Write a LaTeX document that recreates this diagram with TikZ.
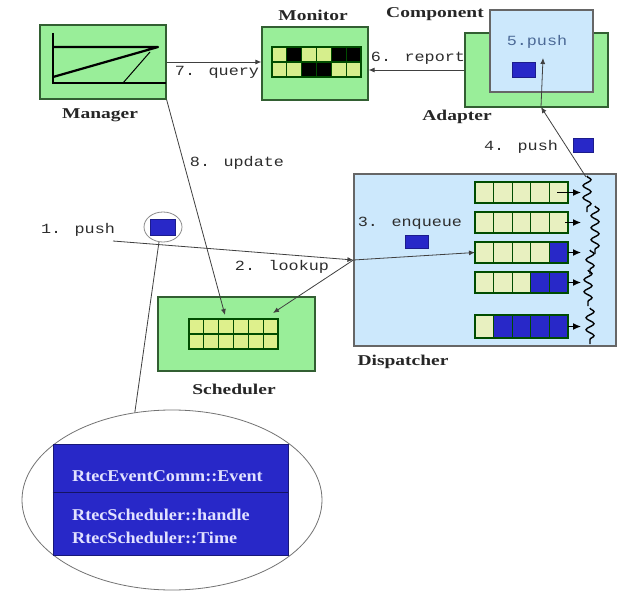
\documentclass[tikz,border=0pt]{standalone}
\usepackage{fontspec}
\usetikzlibrary{arrows.meta,decorations.pathmorphing,shapes.geometric}
\newfontfamily\namefont[FakeStretch=1.3]{Liberation Serif}
\newfontfamily\stepfont[FakeStretch=1.2]{Liberation Mono}
\newfontfamily\evfont[FakeStretch=1.1]{Liberation Serif}

\definecolor{boxgreen}{RGB}{153,238,153}
\definecolor{edgegreen}{RGB}{50,95,50}
\definecolor{paleblue}{RGB}{204,232,252}
\definecolor{evblue}{RGB}{40,40,200}
\definecolor{cellpale}{RGB}{232,240,192}
\definecolor{celllime}{RGB}{214,238,140}
\definecolor{schedcell}{RGB}{222,240,140}
\definecolor{labelgray}{RGB}{45,45,45}
\definecolor{pushblue}{RGB}{75,105,150}
\definecolor{evtextc}{RGB}{225,225,255}

\begin{document}
\begin{tikzpicture}[x=1pt,y=-1pt,
  greenbox/.style={draw=edgegreen, fill=boxgreen, line width=1.2pt, inner sep=0pt},
  bluebox/.style={draw=black!60, fill=paleblue, line width=1.2pt, inner sep=0pt},
  compname/.style={font=\namefont\bfseries\fontsize{15}{18}\selectfont, text=black!85, inner sep=0pt},
  steplabel/.style={font=\stepfont\fontsize{14}{16}\selectfont, text=labelgray, inner sep=0pt},
  evtext/.style={font=\evfont\bfseries\fontsize{16.5}{19}\selectfont, text=evtextc, inner sep=0pt, anchor=west},
  token/.style={fill=evblue, draw=evblue!70!black, line width=0.6pt},
  conn/.style={draw=black!75, line width=0.8pt},
  tip/.style={-{Latex[length=6pt,width=5pt]}},
  cellline/.style={draw=black!70!green, line width=1.3pt},
  wave/.style={draw=black, line width=1.4pt, decorate,
    decoration={snake, amplitude=4pt, segment length=12pt}},
  qarrow/.style={draw=black, line width=1.2pt, -{Latex[length=8pt,width=7pt]}}]

\useasboundingbox (0,0) rectangle (619,594);
\fill[white] (0,0) rectangle (619,594);

% ---------- Manager ----------
\node[greenbox, minimum width=126pt, minimum height=74pt] (mgr) at (103,62) {};
\draw[line width=2.2pt] (53,33) -- (53,83) -- (165.5,83);
\draw[line width=2.2pt, line join=round] (53,47) -- (158,47) -- (53,77);
\draw[line width=1pt] (123,83) -- (150,52);
\node[compname] at (100,115) {Manager};

% ---------- Monitor ----------
\node[greenbox, minimum width=106pt, minimum height=73pt] (mon) at (315,63.5) {};
\node[compname] at (313,15) {Monitor};
\foreach \col [count=\i from 0] in {celllime,black,celllime,celllime,black,black}
  \filldraw[cellline, fill=\col] (272+\i*14.83,47) rectangle ++(14.83,15);
\foreach \col [count=\i from 0] in {celllime,celllime,black,black,celllime,celllime}
  \filldraw[cellline, fill=\col] (272+\i*14.83,62) rectangle ++(14.83,15);

% ---------- Adapter and Component ----------
\node[greenbox, minimum width=143pt, minimum height=74pt] (adp) at (536.5,70) {};
\node[bluebox, minimum width=103pt, minimum height=82pt] (cmp) at (541.5,51) {};
\node[compname] at (435,14) {Component};
\node[compname] at (457,117) {Adapter};
\node[steplabel, text=pushblue] (p5) at (537,42) {5.push};
\draw[token] (512,62) rectangle (535,77);

% ---------- Dispatcher ----------
\node[bluebox, minimum width=262pt, minimum height=172pt] (disp) at (485,260) {};
\node[compname] at (403,362) {Dispatcher};
\foreach \ytop/\hgt/\cols in {
    182/21/{cellpale,cellpale,cellpale,cellpale,cellpale},
    212/21/{cellpale,cellpale,cellpale,cellpale,cellpale},
    242/21/{cellpale,cellpale,cellpale,cellpale,evblue},
    272/21/{cellpale,cellpale,cellpale,evblue,evblue},
    315/23/{cellpale,evblue,evblue,evblue,evblue}}
  \foreach \col [count=\i from 0] in \cols
    \filldraw[cellline, fill=\col] (475+\i*18.6,\ytop) rectangle ++(18.6,\hgt);
\coordinate (q3) at (475,252.5);
\draw[qarrow] (557,192.5) -- (581,192.5);
\draw[qarrow] (565,222.5) -- (581,222.5);
\draw[qarrow] (568,252.5) -- (581,252.5);
\draw[qarrow] (568,282.5) -- (581,282.5);
\draw[qarrow] (568,326.5) -- (581,326.5);
\draw[wave] (587,176) -- (587,212);
\draw[wave] (595,206) -- (595,254);
\draw[wave] (590,250) -- (590,274);
\draw[wave] (588,270) -- (588,306);
\draw[wave] (590,308) -- (590,344);
\coordinate (wtop) at (586,177);
\node[steplabel] at (410,223) {3. enqueue};
\draw[token] (405,235) rectangle (428,248);

% ---------- Scheduler ----------
\node[greenbox, minimum width=157pt, minimum height=74pt] (sch) at (236.5,334) {};
\node[compname] at (234,389) {Scheduler};
\foreach \r in {0,1}
  \foreach \i in {0,...,5}
    \filldraw[cellline, fill=schedcell] (189+\i*14.83,319+\r*15) rectangle ++(14.83,15);
\coordinate (supd) at (225,315);
\coordinate (slook) at (273,313);

% ---------- Event ----------
\node[ellipse, draw=black!45, fill=white, line width=0.8pt,
      minimum width=38pt, minimum height=30pt, inner sep=0pt] (evs) at (163,227) {};
\draw[token] (150,219) rectangle (175,235);
\node[ellipse, draw=black!55, line width=0.8pt,
      minimum width=300pt, minimum height=180pt, inner sep=0pt] (evb) at (172,500) {};
\node[fill=evblue, draw=evblue!60!black, line width=0.8pt,
      minimum width=235pt, minimum height=111pt, inner sep=0pt] (evbox) at (170.5,499.5) {};
\draw[draw=evblue!50!black, line width=0.8pt] (evbox.west |- 0,492) -- (evbox.east |- 0,492);
\node[evtext] at (72,476) {RtecEventComm::Event};
\node[evtext] at (72,515) {RtecScheduler::handle};
\node[evtext] at (72,538) {RtecScheduler::Time};
\draw[conn] (evs.-105) -- (evb.113);

% ---------- Connectors ----------
\draw[conn, tip] (mgr.east) -- (mgr.east -| mon.west);
\node[steplabel] at (217,72) {7. query};
\draw[conn, tip] (adp.west) -- (adp.west -| mon.east);
\node[steplabel] at (418,58) {6. report};
\draw[conn, tip] (mgr.south east) -- (supd);
\node[steplabel] at (237,163) {8. update};
\coordinate (p1) at (113,241);
\draw[conn, tip] (p1) -- (228,250) -- (disp.west);
\node[steplabel] at (78,230) {1. push};
\draw[conn, tip] (disp.west) -- (slook);
\node[steplabel] at (282,267) {2. lookup};
\draw[conn, tip] (disp.west) -- (q3);
\coordinate (adpin) at (541,107);
\draw[conn, tip] (wtop) -- (adpin);
\draw[conn, tip] (adpin) -- (543,58);
\node[steplabel] at (521,147) {4. push};
\draw[token] (573,138) rectangle (593,152);

\end{tikzpicture}
\end{document}
